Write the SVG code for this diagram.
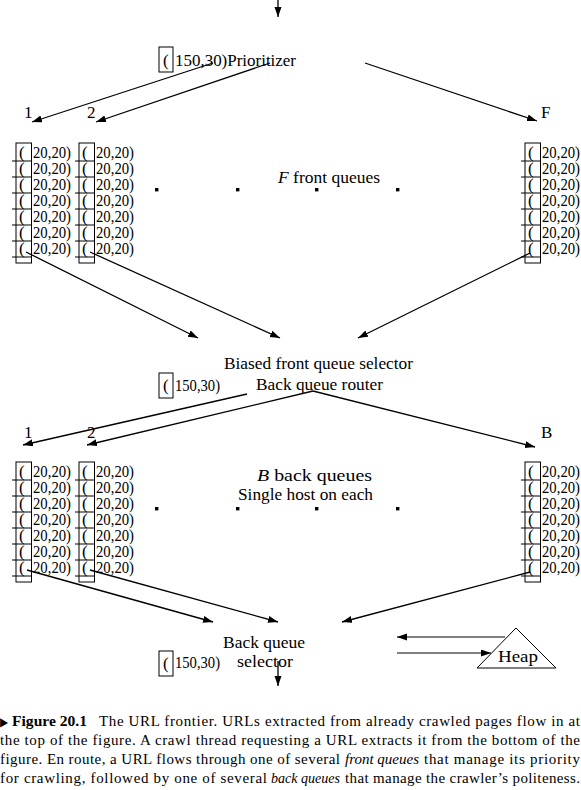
<svg xmlns="http://www.w3.org/2000/svg" xmlns:xlink="http://www.w3.org/1999/xlink" width="581" height="790" viewBox="0 0 581 790">
<style>
text{font-family:"Liberation Serif","Times New Roman",serif;font-size:17px;fill:#000}
.cap{font-size:15px}
.b{font-weight:bold}
.i{font-style:italic}
.box{fill:none;stroke:#000;stroke-width:1}
.ln{stroke:#000;stroke-width:1}
.con{stroke:#000;stroke-width:1.3;fill:none;marker-end:url(#ah)}
.thin{stroke-width:1}
.dot{fill:#000}
</style>
<defs>
<marker id="ah" markerUnits="userSpaceOnUse" markerWidth="11" markerHeight="8" refX="10" refY="3.5" orient="auto">
<path d="M0,0 L10,3.5 L0,7 Z" fill="#000"/>
</marker>
<g id="queue">
<rect class="box" x="0" y="0" width="15.5" height="120"/>
<path class="ln" d="M-4,18H15.5M-4,34H15.5M-4,50H15.5M-4,66H15.5M-4,82H15.5M-4,98H15.5M-4,114H15.5"/>
<text x="3" y="15">(</text><text x="17" y="15" textLength="38" lengthAdjust="spacingAndGlyphs">20,20)</text>
<text x="3" y="31">(</text><text x="17" y="31" textLength="38" lengthAdjust="spacingAndGlyphs">20,20)</text>
<text x="3" y="47">(</text><text x="17" y="47" textLength="38" lengthAdjust="spacingAndGlyphs">20,20)</text>
<text x="3" y="63">(</text><text x="17" y="63" textLength="38" lengthAdjust="spacingAndGlyphs">20,20)</text>
<text x="3" y="79">(</text><text x="17" y="79" textLength="38" lengthAdjust="spacingAndGlyphs">20,20)</text>
<text x="3" y="95">(</text><text x="17" y="95" textLength="38" lengthAdjust="spacingAndGlyphs">20,20)</text>
<text x="3" y="111">(</text><text x="17" y="111" textLength="38" lengthAdjust="spacingAndGlyphs">20,20)</text>
</g>
</defs>

<g id="connectors">
<line class="con" x1="278" y1="0" x2="278" y2="17"/>
<line class="con" x1="213" y1="63" x2="32" y2="122"/>
<line class="con" x1="270" y1="63" x2="96" y2="122"/>
<line class="con" x1="365" y1="63" x2="537" y2="121"/>
<line class="con" x1="26" y1="252" x2="198" y2="338"/>
<line class="con" x1="90" y1="252" x2="280" y2="338"/>
<line class="con" x1="530" y1="253" x2="358" y2="338"/>
<line class="con" x1="247" y1="394" x2="23" y2="445"/>
<line class="con" x1="313" y1="391" x2="87" y2="445"/>
<line class="con" x1="313" y1="391" x2="535" y2="447"/>
<line class="con" x1="27" y1="570" x2="213" y2="622"/>
<line class="con" x1="90" y1="570" x2="278" y2="622"/>
<line class="con" x1="530" y1="572" x2="342" y2="622"/>
<line class="con" x1="278" y1="661" x2="278" y2="686"/>
<line class="con thin" x1="505" y1="637" x2="397" y2="637"/>
<line class="con thin" x1="397" y1="653" x2="491" y2="653"/>
</g>

<g id="prioritizer">
<rect class="box" x="159" y="47" width="14" height="25"/>
<text x="163" y="66">(</text>
<text x="175" y="66" textLength="121" lengthAdjust="spacingAndGlyphs">150,30)Prioritizer</text>
</g>

<g id="front-labels">
<text x="24" y="118">1</text>
<text x="87" y="118">2</text>
<text x="541" y="118">F</text>
</g>

<g id="front-queue-1"><use xlink:href="#queue" x="16" y="143"/></g>
<g id="front-queue-2"><use xlink:href="#queue" x="79" y="143"/></g>
<g id="front-queue-F"><use xlink:href="#queue" x="525" y="143"/></g>

<g id="front-dots">
<rect class="dot" x="155" y="188" width="3.4" height="3.4"/>
<rect class="dot" x="236" y="188" width="3.4" height="3.4"/>
<rect class="dot" x="315" y="188" width="3.4" height="3.4"/>
<rect class="dot" x="396" y="188" width="3.4" height="3.4"/>
<text x="278" y="183" textLength="102" lengthAdjust="spacingAndGlyphs"><tspan class="i">F</tspan> front queues</text>
</g>

<g id="front-selector">
<text x="224" y="369" textLength="189" lengthAdjust="spacingAndGlyphs">Biased front queue selector</text>
</g>

<g id="router">
<rect class="box" x="159" y="373" width="14" height="25"/>
<text x="163" y="391">(</text>
<text x="175" y="391" textLength="45" lengthAdjust="spacingAndGlyphs">150,30)</text>
<text x="256" y="390" textLength="127" lengthAdjust="spacingAndGlyphs">Back queue router</text>
</g>

<g id="back-labels">
<text x="24" y="438">1</text>
<text x="87" y="438">2</text>
<text x="541" y="438">B</text>
</g>

<g id="back-queue-1"><use xlink:href="#queue" x="16" y="462"/></g>
<g id="back-queue-2"><use xlink:href="#queue" x="79" y="462"/></g>
<g id="back-queue-B"><use xlink:href="#queue" x="525" y="462"/></g>

<g id="back-dots">
<rect class="dot" x="155" y="507" width="3.4" height="3.4"/>
<rect class="dot" x="236" y="507" width="3.4" height="3.4"/>
<rect class="dot" x="315" y="507" width="3.4" height="3.4"/>
<rect class="dot" x="396" y="507" width="3.4" height="3.4"/>
<text x="257" y="481" textLength="115" lengthAdjust="spacingAndGlyphs"><tspan class="i">B</tspan> back queues</text>
<text x="238" y="500" textLength="135" lengthAdjust="spacingAndGlyphs">Single host on each</text>
</g>

<g id="back-selector">
<text x="223" y="648" textLength="82" lengthAdjust="spacingAndGlyphs">Back queue</text>
<rect class="box" x="159" y="651" width="14" height="25"/>
<text x="163" y="669">(</text>
<text x="175" y="668" textLength="45" lengthAdjust="spacingAndGlyphs">150,30)</text>
<text x="237" y="667" textLength="56" lengthAdjust="spacingAndGlyphs">selector</text>
</g>

<g id="heap">
<path class="box" d="M516,628 L477,668 L556,668 Z"/>
<text x="498" y="662" textLength="40" lengthAdjust="spacingAndGlyphs">Heap</text>
</g>

<g id="caption">
<text x="0" y="726" textLength="8" lengthAdjust="spacingAndGlyphs" style="font-family:'DejaVu Sans',sans-serif;font-size:12px">▶</text>
<text class="cap b" x="12" y="726" textLength="75" lengthAdjust="spacingAndGlyphs">Figure 20.1</text>
<text class="cap" x="99" y="726" textLength="481" lengthAdjust="spacing">The URL frontier. URLs extracted from already crawled pages flow in at</text>
<text class="cap" x="0" y="745" textLength="580" lengthAdjust="spacing">the top of the figure.  A crawl thread requesting a URL extracts it from the bottom of the</text>
<text class="cap" x="0" y="764" textLength="340" lengthAdjust="spacing">figure. En route, a URL flows through one of several</text>
<text class="cap i" x="345" y="764" textLength="74" lengthAdjust="spacingAndGlyphs">front queues</text>
<text class="cap" x="424" y="764" textLength="156" lengthAdjust="spacing">that manage its priority</text>
<text class="cap" x="0" y="783" textLength="267" lengthAdjust="spacing">for crawling, followed by one of several</text>
<text class="cap i" x="271" y="783" textLength="69" lengthAdjust="spacingAndGlyphs">back queues</text>
<text class="cap" x="345" y="783" textLength="235" lengthAdjust="spacing">that manage the crawler’s politeness.</text>
</g>
</svg>
